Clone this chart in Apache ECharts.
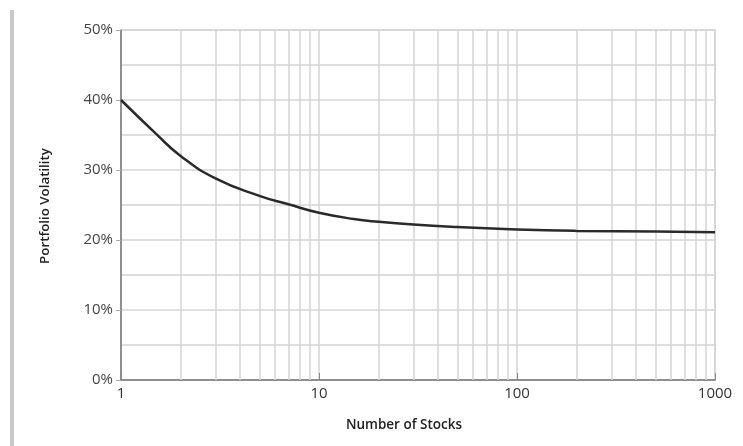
<!DOCTYPE html>
<html><head><meta charset="utf-8">
<script src="https://cdn.jsdelivr.net/npm/echarts@6/dist/echarts.min.js"></script>
<style>html,body{margin:0;padding:0;background:#fff}#c{width:743px;height:446px}</style>
</head><body><div id="c"></div>
<script>
const stocks = [1, 1.5, 2, 3, 5, 7, 10, 15, 20, 30, 50, 100, 200, 500, 1000];
const volatility = [40, 35.2, 32.0, 28.8, 26.3, 25.1, 23.9, 23.0, 22.6, 22.2, 21.85, 21.5, 21.3, 21.2, 21.1];
const minorGridX = [2,3,4,5,6,7,8,9,20,30,40,50,60,70,80,90,200,300,400,500,600,700,800,900];
const xTitle = 'Number of Stocks';
const yTitle = 'Portfolio Volatility';
const FONT = '"Open Sans"';
const gridCol = '#d4d4d4';

const chart = echarts.init(document.getElementById('c'), null, {renderer: 'canvas'});
chart.setOption({
  animation: false,
  backgroundColor: '#fff',
  grid: {left: 121, right: 28, top: 30, bottom: 66, show: true, borderColor: gridCol, borderWidth: 1.5},
  graphic: [
    {type: 'rect', shape: {x: 10, y: 10, width: 4, height: 436}, style: {fill: '#c8c8c8'}},
    {type: 'text', x: 404, y: 425, style: {text: xTitle, font: '600 13.5px ' + FONT, fill: '#222', align: 'center', verticalAlign: 'middle'}},
    {type: 'text', x: 45, y: 206, rotation: Math.PI/2, style: {text: yTitle, font: '600 13.3px ' + FONT, fill: '#222', align: 'center', verticalAlign: 'middle'}}
  ],
  xAxis: {
    type: 'log', logBase: 10, min: 1, max: 1000,
    axisLine: {show: true, lineStyle: {color: '#777', width: 1.5}},
    axisTick: {show: true, inside: true, length: 7, lineStyle: {color: '#888'}},
    axisLabel: {color: '#333', fontFamily: 'Open Sans', fontSize: 15, margin: 6, formatter: v => String(Math.round(v))},
    splitLine: {show: true, lineStyle: {color: gridCol, width: 1.5}}
  },
  yAxis: {
    type: 'value', min: 0, max: 50, interval: 10,
    axisLine: {show: true, lineStyle: {color: '#777', width: 1.5}},
    axisTick: {show: true, length: 5, lineStyle: {color: '#aaa'}},
    axisLabel: {color: '#444', fontFamily: 'Open Sans', fontSize: 15, margin: 8, formatter: v => v + '%'},
    splitLine: {show: true, lineStyle: {color: gridCol, width: 1.5}},
    minorTick: {show: false, splitNumber: 2},
    minorSplitLine: {show: true, lineStyle: {color: gridCol, width: 1.5}}
  },
  series: [{
    type: 'line', smooth: true, symbol: 'none',
    data: stocks.map((s, i) => [s, volatility[i]]),
    lineStyle: {color: '#2a2a2a', width: 2.5},
    z: 5,
    markLine: {
      silent: true, symbol: 'none', label: {show: false},
      lineStyle: {color: gridCol, width: 1.5, type: 'solid'},
      data: minorGridX.map(v => ({xAxis: v})),
      z: 1
    }
  }]
});
</script></body></html>
